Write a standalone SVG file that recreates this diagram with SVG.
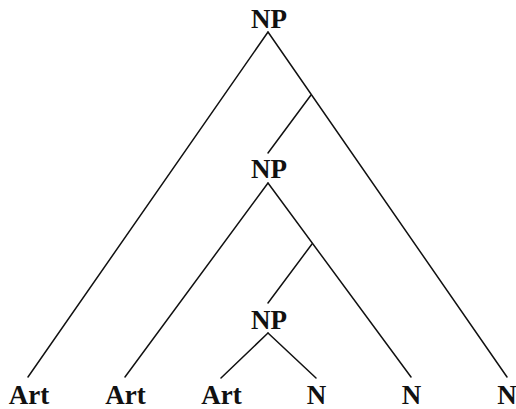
<svg xmlns="http://www.w3.org/2000/svg" width="516" height="409" viewBox="0 0 516 409">
  <style>
    .lbl { font-family: "Liberation Serif", "Times New Roman", serif; font-weight: bold; font-size: 27px; fill: #111; text-anchor: middle; }
    .edge { stroke: #111; stroke-width: 1.5; fill: none; stroke-linecap: round; }
  </style>
  <rect width="516" height="409" fill="#fff"/>
  <g id="connectors">
    <line class="edge" x1="268" y1="32" x2="28" y2="377"/>
    <line class="edge" x1="268" y1="32" x2="507" y2="377"/>
    <line class="edge" x1="311" y1="95" x2="268" y2="153"/>
    <line class="edge" x1="268" y1="183" x2="125" y2="377"/>
    <line class="edge" x1="268" y1="183" x2="411" y2="377"/>
    <line class="edge" x1="312" y1="244" x2="268" y2="303"/>
    <line class="edge" x1="268" y1="333" x2="221" y2="378"/>
    <line class="edge" x1="268" y1="333" x2="316" y2="378"/>
  </g>
  <g id="np1"><text class="lbl" x="269" y="28">NP</text></g>
  <g id="np2"><text class="lbl" x="269" y="178">NP</text></g>
  <g id="np3"><text class="lbl" x="269" y="329">NP</text></g>
  <g id="art1"><text class="lbl" x="29" y="404">Art</text></g>
  <g id="art2"><text class="lbl" x="125.5" y="404">Art</text></g>
  <g id="art3"><text class="lbl" x="221.5" y="404">Art</text></g>
  <g id="n1"><text class="lbl" x="316.5" y="404">N</text></g>
  <g id="n2"><text class="lbl" x="411.5" y="404">N</text></g>
  <g id="n3"><text class="lbl" x="507" y="404">N</text></g>
</svg>
